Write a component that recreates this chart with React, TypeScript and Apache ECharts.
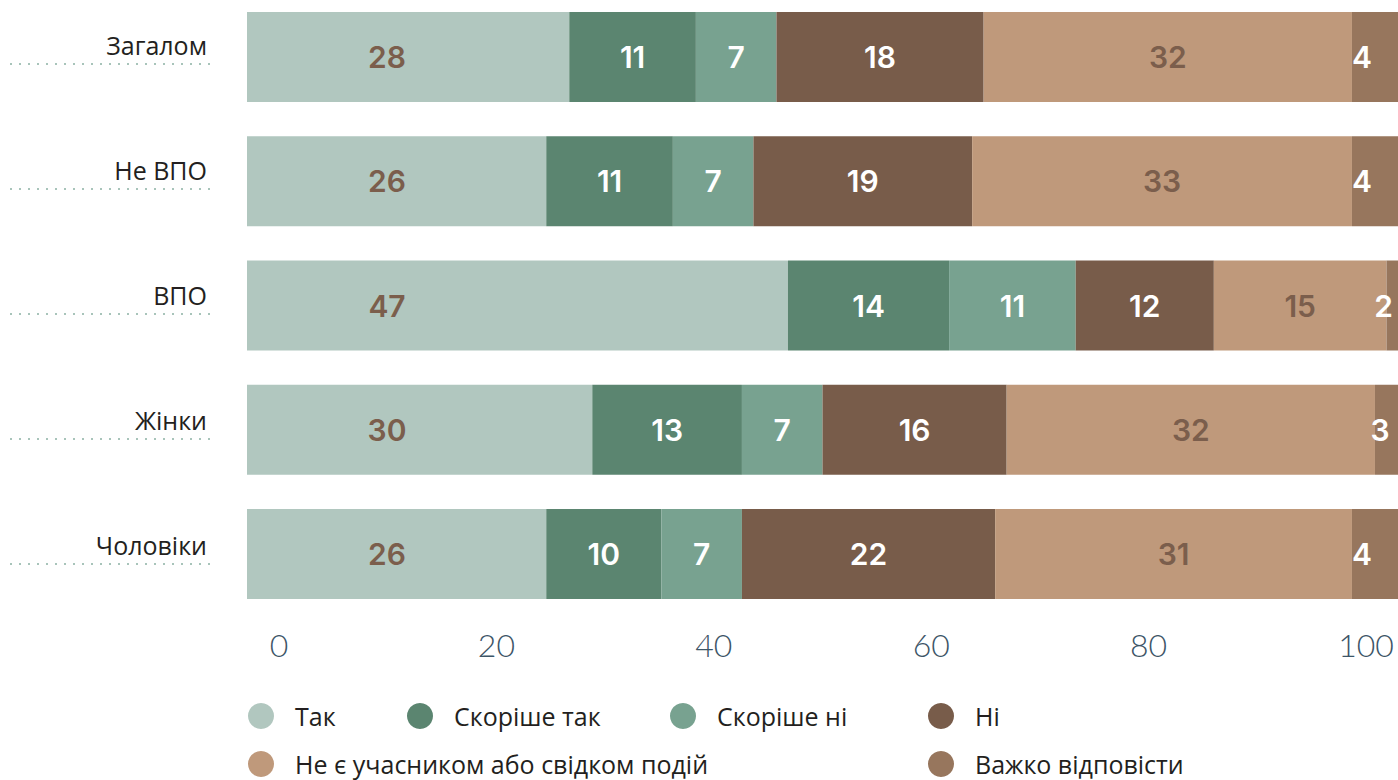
import React, { useEffect, useRef } from "react";
import * as echarts from "echarts";

const categories = ["Загалом", "Не ВПО", "ВПО", "Жінки", "Чоловіки"];
const seriesNames = [
  "Так",
  "Скоріше так",
  "Скоріше ні",
  "Ні",
  "Не є учасником або свідком подій",
  "Важко відповісти",
];
const tak = [28, 26, 47, 30, 26];
const skorisheTak = [11, 11, 14, 13, 10];
const skorisheNi = [7, 7, 11, 7, 7];
const ni = [18, 19, 12, 16, 22];
const neUchasnyk = [32, 33, 15, 32, 31];
const vazhko = [4, 4, 2, 3, 4];
const xTicks = [0, 20, 40, 60, 80, 100];

const colors = ["#b1c7bf", "#5b8570", "#78a290", "#785c4a", "#bf997b", "#97765d"];
const labelColors = ["#7b5e4c", "#ffffff", "#ffffff", "#ffffff", "#7b5e4c", "#ffffff"];
const edgeLabelShift = [10, 10, -3, 5, 10];

const legendPos = [
  { left: 248, top: 703 },
  { left: 407, top: 703 },
  { left: 670, top: 703 },
  { left: 928, top: 703 },
  { left: 248, top: 751 },
  { left: 928, top: 751 },
];

export default function App() {
  const ref = useRef<HTMLDivElement>(null);
  useEffect(() => {
    if (!ref.current) return;
    const chart = echarts.init(ref.current, null, { renderer: "svg" });
    const values = [tak, skorisheTak, skorisheNi, ni, neUchasnyk, vazhko];
    const series = values.map((vals, si) => {
      const baseLabel: any = {
        show: true,
        color: labelColors[si],
        fontFamily: "Inter, 'Open Sans', sans-serif",
        fontWeight: 600,
        fontSize: 30,
        align: "center",
        verticalAlign: "middle",
      };
      if (si === 0) baseLabel.position = [140, "50%"];
      else if (si === 5) baseLabel.position = [10, "50%"];
      else baseLabel.position = "inside";
      return {
        type: "bar",
        name: seriesNames[si],
        stack: "total",
        xAxisIndex: 0,
        yAxisIndex: 0,
        barWidth: 90,
        itemStyle: { color: colors[si] },
        label: baseLabel,
        emphasis: { disabled: true },
        data: vals.map((v, ri) =>
          si === 5
            ? { value: v, label: { position: [edgeLabelShift[ri], "50%"] } }
            : v
        ),
      };
    });
    chart.setOption({
      animation: false,
      grid: [
        { left: 247, right: 0, top: -5, height: 621, outerBoundsMode: "none", containLabel: false },
        { left: 279, right: 32, top: 1, height: 625, outerBoundsMode: "none", containLabel: false },
        { left: 210, right: 0, top: 1, height: 625, outerBoundsMode: "none", containLabel: false },
      ],
      xAxis: [
        { type: "value", gridIndex: 0, min: 0, max: 100, show: false },
        {
          type: "value",
          gridIndex: 1,
          min: 0,
          max: 100,
          interval: 20,
          axisLine: { show: false },
          axisTick: { show: false },
          splitLine: { show: false },
          axisLabel: {
            margin: 2,
            fontFamily: "Lato, sans-serif",
            fontWeight: 300,
            fontSize: 32,
            color: "#3d5567",
            customValues: xTicks,
          },
        },
        { type: "value", gridIndex: 2, min: 0, max: 100, show: false },
      ],
      yAxis: [
        { type: "category", gridIndex: 0, data: categories, inverse: true, show: false },
        { type: "category", gridIndex: 1, data: categories, inverse: true, show: false },
        {
          type: "category",
          gridIndex: 2,
          data: categories,
          inverse: true,
          axisLine: { show: false },
          axisTick: {
            show: true,
            alignWithLabel: true,
            length: 202,
            lineStyle: { color: "#a8c4ba", width: 2, type: [2, 7] },
          },
          axisLabel: {
            margin: 3,
            verticalAlign: "middle",
            formatter: (v: string) => `{a|${v}}\n{b| }`,
            rich: {
              a: {
                fontFamily: "'Open Sans', sans-serif",
                fontSize: 25,
                color: "#231f20",
                lineHeight: 25,
              },
              b: { fontSize: 10, lineHeight: 37 },
            },
          },
        },
      ],
      legend: seriesNames.map((n, i) => ({
        data: [n],
        left: legendPos[i].left,
        top: legendPos[i].top,
        padding: 0,
        icon: "circle",
        itemWidth: 26,
        itemHeight: 26,
        selectedMode: false,
        textStyle: {
          fontFamily: "'Open Sans', sans-serif",
          fontSize: 25,
          lineHeight: 26,
          color: "#231f20",
          padding: [0, 0, 0, 16],
        },
      })),
      series,
    });
    return () => chart.dispose();
  }, []);
  return (
    <div
      ref={ref}
      style={{ position: "fixed", left: 0, top: 0, width: 1398, height: 780, background: "#fff" }}
    />
  );
}
